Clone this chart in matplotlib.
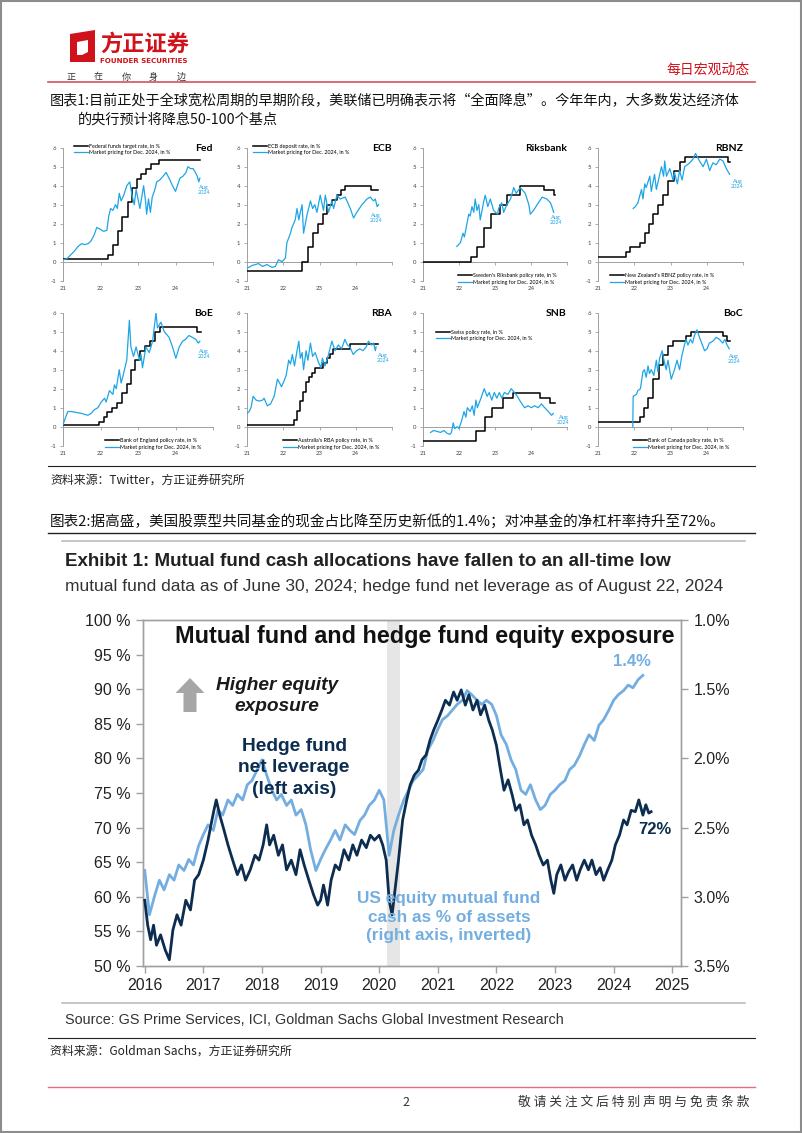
import matplotlib
matplotlib.use("Agg")
import matplotlib.pyplot as plt
from matplotlib.patches import Rectangle, Polygon, FancyArrow
from matplotlib.transforms import IdentityTransform

# ------------------------------------------------------------
# page size (pixels at dpi=100)
# ------------------------------------------------------------
W, H = 802, 1133
plt.rcParams['font.family'] = ['Noto Sans CJK SC', 'DejaVu Sans']

# ============================================================
# DATA - central bank panels (policy rate = steps, market pricing)
# ============================================================
fed_rate_t = [2021.0, 2022.21, 2022.34, 2022.46, 2022.57, 2022.72, 2022.84, 2022.96, 2023.09, 2023.22, 2023.34, 2023.57, 2024.66]
fed_rate_v = [0.125, 0.375, 0.875, 1.625, 2.375, 3.125, 3.875, 4.375, 4.625, 4.875, 5.125, 5.375, 5.375]
fed_mkt_t = [2021.0, 2021.1, 2021.2, 2021.3, 2021.4, 2021.5, 2021.58, 2021.67, 2021.75, 2021.83, 2021.9, 2022.0,
             2022.08, 2022.17, 2022.22, 2022.27, 2022.33, 2022.4, 2022.45, 2022.5, 2022.55, 2022.62, 2022.7, 2022.78,
             2022.83, 2022.9, 2022.95, 2023.0, 2023.05, 2023.1, 2023.15, 2023.2, 2023.23, 2023.28, 2023.33, 2023.38,
             2023.45, 2023.5, 2023.58, 2023.67, 2023.75, 2023.8, 2023.85, 2023.92, 2024.0, 2024.05, 2024.12, 2024.2,
             2024.28, 2024.33, 2024.4, 2024.47, 2024.53, 2024.58, 2024.62, 2024.65]
fed_mkt_v = [0.1, 0.15, 0.35, 0.55, 0.8, 0.95, 0.9, 0.95, 1.1, 1.4, 1.8, 1.7,
             1.6, 1.65, 2.4, 2.8, 2.7, 3.0, 2.8, 3.6, 3.2, 3.5, 4.0, 4.2,
             3.6, 3.0, 3.8, 3.3, 2.8, 3.4, 4.0, 3.2, 2.5, 3.3, 2.6, 3.4,
             3.8, 4.2, 4.3, 4.5, 4.7, 4.5, 4.3, 4.0, 3.7, 4.0, 4.4, 4.5,
             4.7, 5.0, 4.9, 4.9, 4.7, 4.5, 4.2, 4.4]

ecb_rate_t = [2021.0, 2022.53, 2022.69, 2022.83, 2022.96, 2023.1, 2023.22, 2023.35, 2023.47, 2023.58, 2023.7, 2024.42, 2024.62]
ecb_rate_v = [-0.5, 0.0, 0.75, 1.5, 2.0, 2.5, 3.0, 3.25, 3.5, 3.75, 4.0, 3.75, 3.75]
ecb_mkt_t = [2021.0, 2021.14, 2021.32, 2021.43, 2021.55, 2021.69, 2021.78, 2021.87, 2021.97, 2022.06, 2022.1,
             2022.2, 2022.24, 2022.33, 2022.38, 2022.43, 2022.47, 2022.52, 2022.56, 2022.66, 2022.75, 2022.81,
             2022.87, 2022.93, 2023.02, 2023.11, 2023.16, 2023.25, 2023.34, 2023.39, 2023.48, 2023.57, 2023.71,
             2023.85, 2023.94, 2024.03, 2024.17, 2024.31, 2024.4, 2024.49, 2024.54, 2024.59, 2024.63]
ecb_mkt_v = [-0.35, -0.2, -0.1, -0.25, -0.15, -0.3, -0.25, 0.1, 0.0, 0.2, 1.0,
             1.5, 1.8, 2.2, 2.8, 2.2, 2.6, 3.0, 1.5, 2.5, 3.2, 2.8,
             3.0, 2.6, 3.5, 2.7, 3.5, 2.6, 3.2, 2.8, 3.5, 3.3, 3.4,
             2.8, 2.3, 2.6, 3.0, 3.3, 3.4, 3.2, 3.3, 2.9, 3.0]

rik_rate_t = [2021.0, 2022.32, 2022.49, 2022.7, 2022.9, 2023.15, 2023.33, 2023.7, 2024.36, 2024.64, 2024.66]
rik_rate_v = [0.0, 0.25, 0.75, 1.75, 2.5, 3.0, 3.5, 4.0, 3.75, 3.5, 3.5]
rik_mkt_t = [2021.94, 2022.04, 2022.11, 2022.15, 2022.22, 2022.27, 2022.31, 2022.36, 2022.41, 2022.45, 2022.5,
             2022.55, 2022.59, 2022.69, 2022.73, 2022.8, 2022.87, 2022.96, 2023.07, 2023.1, 2023.19, 2023.24,
             2023.33, 2023.43, 2023.52, 2023.59, 2023.7, 2023.84, 2023.94, 2023.98, 2024.07, 2024.17, 2024.31,
             2024.44, 2024.54, 2024.58, 2024.63]
rik_mkt_v = [0.8, 1.0, 1.5, 1.3, 2.0, 2.5, 2.4, 2.9, 2.6, 3.3, 2.7,
             3.0, 2.2, 3.2, 3.5, 2.9, 3.3, 2.7, 2.5, 2.8, 3.1, 2.6,
             3.0, 3.3, 3.9, 3.6, 3.9, 3.6, 3.0, 2.5, 2.7, 3.0, 3.4,
             3.3, 3.1, 2.9, 2.6]

nz_rate_t = [2021.0, 2021.78, 2021.87, 2022.15, 2022.29, 2022.4, 2022.52, 2022.66, 2022.79, 2022.93, 2023.11, 2023.25, 2023.39, 2024.59, 2024.63]
nz_rate_v = [0.25, 0.5, 0.75, 1.0, 1.5, 2.0, 2.5, 3.0, 3.5, 4.25, 4.75, 5.25, 5.5, 5.25, 5.25]
nz_mkt_t = [2021.97, 2022.03, 2022.1, 2022.2, 2022.24, 2022.29, 2022.33, 2022.43, 2022.47, 2022.56, 2022.61,
            2022.75, 2022.81, 2022.84, 2022.89, 2022.98, 2023.07, 2023.11, 2023.19, 2023.25, 2023.32, 2023.39,
            2023.53, 2023.62, 2023.69, 2023.8, 2023.9, 2023.99, 2024.08, 2024.17, 2024.26, 2024.36, 2024.45,
            2024.54, 2024.63]
nz_mkt_v = [2.8, 2.9, 3.1, 3.8, 3.3, 4.1, 3.9, 4.5, 3.7, 4.6, 3.8,
            5.0, 4.5, 5.3, 4.5, 4.9, 4.3, 4.7, 4.1, 4.8, 4.3, 5.0,
            5.2, 5.4, 5.7, 5.3, 5.0, 5.4, 4.8, 5.2, 5.1, 5.4, 5.3,
            4.9, 4.6]

boe_rate_t = [2021.0, 2021.96, 2022.09, 2022.18, 2022.31, 2022.45, 2022.58, 2022.71, 2022.8, 2022.93, 2023.06, 2023.19, 2023.33, 2023.46, 2023.58, 2024.58, 2024.67]
boe_rate_v = [0.1, 0.25, 0.5, 0.75, 1.0, 1.25, 1.75, 2.25, 3.0, 3.5, 4.0, 4.25, 4.5, 5.0, 5.25, 5.0, 5.0]
boe_mkt_t = [2021.0, 2021.07, 2021.13, 2021.22, 2021.35, 2021.49, 2021.58, 2021.66, 2021.75, 2021.84, 2021.93,
             2022.02, 2022.11, 2022.15, 2022.24, 2022.33, 2022.37, 2022.42, 2022.5, 2022.55, 2022.59, 2022.7,
             2022.77, 2022.81, 2022.88, 2022.95, 2023.04, 2023.08, 2023.12, 2023.21, 2023.3, 2023.39, 2023.48,
             2023.52, 2023.61, 2023.7, 2023.83, 2023.92, 2024.01, 2024.1, 2024.19, 2024.27, 2024.36, 2024.45,
             2024.54, 2024.61, 2024.65]
boe_mkt_v = [0.1, 0.5, 0.8, 0.8, 0.75, 0.7, 0.65, 0.6, 0.7, 0.9, 1.0,
             1.3, 1.5, 1.3, 1.9, 1.7, 2.2, 2.0, 3.0, 2.3, 2.6, 3.5,
             5.6, 4.2, 3.7, 4.2, 3.5, 3.8, 3.1, 4.2, 3.9, 4.5, 6.0,
             5.2, 5.5, 5.0, 4.7, 4.2, 3.6, 4.2, 4.5, 4.6, 4.8, 4.7,
             4.6, 4.4, 4.5]

rba_rate_t = [2021.0, 2022.3, 2022.37, 2022.45, 2022.54, 2022.63, 2022.72, 2022.79, 2022.88, 2023.1, 2023.2, 2023.29, 2023.38, 2023.84, 2024.6]
rba_rate_v = [0.1, 0.35, 0.85, 1.35, 1.85, 2.35, 2.6, 2.85, 3.1, 3.35, 3.6, 3.85, 4.1, 4.35, 4.35]
rba_mkt_t = [2021.0, 2021.06, 2021.11, 2021.17, 2021.25, 2021.34, 2021.43, 2021.47, 2021.56, 2021.65, 2021.75,
             2021.84, 2021.9, 2021.95, 2022.02, 2022.08, 2022.15, 2022.2, 2022.25, 2022.31, 2022.38, 2022.43,
             2022.47, 2022.52, 2022.56, 2022.63, 2022.68, 2022.75, 2022.81, 2022.88, 2022.97, 2023.04, 2023.08,
             2023.15, 2023.25, 2023.34, 2023.43, 2023.52, 2023.61, 2023.7, 2023.77, 2023.84, 2023.93, 2024.02,
             2024.11, 2024.2, 2024.29, 2024.35, 2024.43, 2024.49, 2024.54, 2024.56]
rba_mkt_v = [0.7, 0.8, 1.0, 1.6, 1.4, 1.35, 1.4, 1.5, 1.1, 1.2, 1.6,
             2.5, 2.3, 2.1, 2.4, 2.7, 3.5, 3.3, 3.8, 3.2, 4.0, 4.5,
             3.6, 3.9, 3.0, 4.0, 3.5, 4.4, 3.7, 3.9, 3.4, 3.1, 3.6,
             3.2, 3.8, 4.5, 4.0, 4.3, 4.1, 4.6, 4.3, 4.2, 3.8, 4.0,
             4.1, 4.0, 4.2, 4.5, 4.3, 4.4, 4.0, 4.2]

snb_rate_t = [2021.0, 2022.47, 2022.72, 2022.93, 2023.22, 2023.5, 2024.24, 2024.52, 2024.68]
snb_rate_v = [-0.75, -0.25, 0.5, 1.0, 1.5, 1.75, 1.5, 1.25, 1.25]
snb_mkt_t = [2021.21, 2021.3, 2021.39, 2021.49, 2021.58, 2021.67, 2021.75, 2021.79, 2021.84, 2021.88, 2021.95,
             2022.0, 2022.07, 2022.14, 2022.19, 2022.23, 2022.31, 2022.37, 2022.42, 2022.47, 2022.51, 2022.61,
             2022.7, 2022.78, 2022.84, 2022.91, 2022.98, 2023.05, 2023.12, 2023.19, 2023.26, 2023.36, 2023.45,
             2023.54, 2023.62, 2023.68, 2023.75, 2023.82, 2023.92, 2024.01, 2024.1, 2024.2, 2024.29, 2024.38,
             2024.48, 2024.57, 2024.62]
snb_mkt_v = [-0.3, -0.2, -0.25, -0.3, -0.2, -0.35, -0.4, -0.3, 0.2, -0.1, 0.0,
             -0.1, 0.3, 0.8, 0.5, 1.0, 0.8, 1.1, 0.6, 1.4, 1.0, 1.5,
             2.0, 1.6, 1.8, 1.4, 1.8, 1.5, 1.8, 1.5, 1.8, 1.7, 2.0,
             1.8, 1.6, 1.4, 1.2, 1.0, 1.1, 1.0, 1.1, 1.0, 1.2, 1.0,
             0.8, 0.6, 0.7]

boc_rate_t = [2021.0, 2022.15, 2022.27, 2022.39, 2022.53, 2022.68, 2022.79, 2022.93, 2023.06, 2023.43, 2023.57, 2024.44, 2024.56, 2024.63]
boc_rate_v = [0.25, 0.5, 1.0, 1.5, 2.5, 3.25, 3.75, 4.25, 4.5, 4.75, 5.0, 4.75, 4.5, 4.5]
boc_mkt_t = [2021.96, 2021.97, 2022.06, 2022.1, 2022.17, 2022.24, 2022.28, 2022.33, 2022.38, 2022.42, 2022.47,
             2022.54, 2022.61, 2022.65, 2022.7, 2022.77, 2022.82, 2022.88, 2022.93, 2023.02, 2023.11, 2023.18,
             2023.25, 2023.31, 2023.37, 2023.43, 2023.48, 2023.55, 2023.61, 2023.66, 2023.73, 2023.8, 2023.86,
             2023.94, 2024.01, 2024.07, 2024.17, 2024.26, 2024.35, 2024.44, 2024.5, 2024.56, 2024.62]
boc_mkt_v = [0.0, 1.6, 1.7, 1.9, 2.0, 2.9, 3.0, 2.6, 3.2, 2.8, 3.0,
             2.7, 3.5, 2.9, 3.6, 4.0, 3.5, 3.0, 3.5, 2.5, 3.0, 3.5,
             3.0, 3.7, 4.2, 4.6, 4.3, 4.6, 4.4, 4.8, 5.1, 4.7, 4.4,
             4.0, 4.1, 4.4, 4.5, 4.7, 4.6, 4.4, 4.6, 4.3, 4.1]

bank_titles = ['Fed', 'ECB', 'Riksbank', 'RBNZ', 'BoE', 'RBA', 'SNB', 'BoC']
rate_labels = ['Federal funds target rate, in %', 'ECB deposit rate, in %',
               "Sweden's Riksbank policy rate, in %", "New Zealand's RBNZ policy rate, in %",
               'Bank of England policy rate, in %', "Australia's RBA policy rate, in %",
               'Swiss policy rate, in %', 'Bank of Canada policy rate, in %']
mkt_label = 'Market pricing for Dec. 2024, in %'
year_ticks = [2021, 2022, 2023, 2024, 2025]
year_labels = ['21', '22', '23', '24', '']

# ============================================================
# DATA - hedge fund leverage (left, %) / mutual fund cash (right, %)
# ============================================================
hf_t = [2016.0, 2016.05, 2016.1, 2016.15, 2016.2, 2016.27, 2016.35, 2016.42, 2016.48, 2016.55, 2016.62,
        2016.7, 2016.78, 2016.85, 2016.92, 2017.0, 2017.08, 2017.13, 2017.18, 2017.22, 2017.28, 2017.35,
        2017.42, 2017.5, 2017.58, 2017.65, 2017.72, 2017.8, 2017.88, 2017.95, 2018.02, 2018.08, 2018.13,
        2018.2, 2018.28, 2018.35, 2018.42, 2018.5, 2018.58, 2018.65, 2018.72, 2018.8, 2018.88, 2018.95,
        2019.0, 2019.05, 2019.12, 2019.18, 2019.25, 2019.32, 2019.4, 2019.48, 2019.55, 2019.62, 2019.7,
        2019.78, 2019.85, 2019.92, 2020.0, 2020.06, 2020.12, 2020.17, 2020.22, 2020.27, 2020.33, 2020.4,
        2020.47, 2020.53, 2020.6, 2020.67, 2020.73, 2020.8, 2020.87, 2020.93, 2021.0, 2021.07, 2021.13,
        2021.2, 2021.27, 2021.33, 2021.4, 2021.47, 2021.53, 2021.6, 2021.67, 2021.73, 2021.8, 2021.87,
        2021.93, 2022.0, 2022.07, 2022.13, 2022.2, 2022.27, 2022.33, 2022.4, 2022.47, 2022.53, 2022.6,
        2022.67, 2022.73, 2022.8, 2022.87, 2022.93, 2022.98, 2023.03, 2023.1, 2023.17, 2023.23, 2023.3,
        2023.37, 2023.43, 2023.5, 2023.57, 2023.63, 2023.7, 2023.77, 2023.83, 2023.9, 2023.97, 2024.03,
        2024.1, 2024.17, 2024.23, 2024.3, 2024.37, 2024.43, 2024.5, 2024.55, 2024.6, 2024.64]
hf_v = [59.5, 55.9, 53.8, 55.9, 53.0, 54.5, 52.3, 50.9, 55.2, 57.4, 55.9,
        59.5, 58.1, 62.4, 63.2, 65.3, 68.2, 70.4, 72.5, 74.0, 71.8, 69.7,
        67.5, 65.3, 63.2, 64.6, 62.4, 63.9, 66.0, 65.3, 67.5, 70.4, 67.5,
        68.9, 66.0, 67.5, 63.9, 65.3, 63.2, 66.8, 64.6, 62.4, 60.3, 58.8,
        59.5, 61.7, 58.8, 62.4, 64.6, 63.9, 66.8, 65.3, 67.5, 66.0, 68.2,
        67.1, 68.9, 68.2, 68.9, 67.5, 65.3, 59.5, 57.4, 61.0, 65.3, 71.1,
        74.0, 76.2, 77.6, 78.3, 79.8, 80.5, 82.7, 84.1, 85.5, 87.0, 88.4,
        87.7, 89.6, 88.4, 89.9, 87.7, 89.2, 87.0, 88.4, 86.3, 87.7, 85.5,
        84.1, 81.9, 78.3, 75.4, 76.9, 74.7, 72.5, 73.3, 70.4, 71.1, 68.9,
        67.5, 66.0, 64.6, 65.3, 62.4, 60.5, 63.2, 64.6, 62.4, 63.6, 64.6,
        62.4, 63.9, 65.3, 63.9, 65.3, 63.2, 64.2, 62.4, 63.9, 65.3, 67.5,
        68.9, 71.1, 70.4, 72.5, 72.3, 74.0, 71.8, 73.3, 72.1, 72.3]

mf_t = [2016.0, 2016.08, 2016.17, 2016.25, 2016.33, 2016.42, 2016.5, 2016.58, 2016.67, 2016.75, 2016.83,
        2016.92, 2017.0, 2017.08, 2017.17, 2017.25, 2017.33, 2017.42, 2017.5, 2017.58, 2017.67, 2017.75,
        2017.83, 2017.92, 2018.0, 2018.08, 2018.17, 2018.25, 2018.33, 2018.42, 2018.5, 2018.58, 2018.67,
        2018.75, 2018.83, 2018.92, 2019.0, 2019.08, 2019.17, 2019.25, 2019.33, 2019.42, 2019.5, 2019.58,
        2019.67, 2019.75, 2019.83, 2019.92, 2020.0, 2020.08, 2020.17, 2020.25, 2020.33, 2020.42, 2020.5,
        2020.58, 2020.67, 2020.75, 2020.83, 2020.92, 2021.0, 2021.08, 2021.17, 2021.25, 2021.33, 2021.42,
        2021.5, 2021.58, 2021.67, 2021.75, 2021.83, 2021.92, 2022.0, 2022.08, 2022.17, 2022.25, 2022.33,
        2022.42, 2022.5, 2022.58, 2022.67, 2022.75, 2022.83, 2022.92, 2023.0, 2023.08, 2023.17, 2023.25,
        2023.33, 2023.42, 2023.5, 2023.58, 2023.67, 2023.75, 2023.83, 2023.92, 2024.0, 2024.08, 2024.17,
        2024.25, 2024.33, 2024.42, 2024.5]
mf_v = [2.81, 3.13, 2.99, 2.88, 2.95, 2.84, 2.88, 2.77, 2.81, 2.73, 2.77,
        2.63, 2.55, 2.48, 2.52, 2.37, 2.41, 2.30, 2.34, 2.26, 2.30, 2.19,
        2.16, 2.08, 2.01, 2.12, 2.23, 2.30, 2.26, 2.34, 2.30, 2.41, 2.37,
        2.48, 2.66, 2.81, 2.73, 2.66, 2.59, 2.52, 2.59, 2.48, 2.52, 2.55,
        2.45, 2.41, 2.34, 2.30, 2.23, 2.30, 2.70, 2.52, 2.41, 2.30, 2.23,
        2.16, 2.12, 2.08, 1.94, 1.87, 1.79, 1.72, 1.69, 1.65, 1.61, 1.58,
        1.51, 1.54, 1.58, 1.61, 1.58, 1.61, 1.69, 1.83, 1.90, 2.01, 2.08,
        2.23, 2.26, 2.19, 2.30, 2.37, 2.34, 2.26, 2.23, 2.19, 2.16, 2.08,
        2.05, 1.98, 1.90, 1.83, 1.87, 1.76, 1.72, 1.65, 1.58, 1.54, 1.51,
        1.47, 1.49, 1.43, 1.40]

left_ticks = [50, 55, 60, 65, 70, 75, 80, 85, 90, 95, 100]
right_ticks = [1.0, 1.5, 2.0, 2.5, 3.0, 3.5]
big_years = [2016, 2017, 2018, 2019, 2020, 2021, 2022, 2023, 2024, 2025]

# ============================================================
# colours / helpers
# ============================================================
RED = '#d0121b'
BLUE = '#1ea5e6'
NAVY = '#0c2d4f'
LBLUE = '#74aee0'
AXG = '#a0a0a0'

fig = plt.figure(figsize=(W / 100, H / 100), dpi=100)


def box(x0, y0, x1, y1):
    return [x0 / W, 1 - y1 / H, (x1 - x0) / W, (y1 - y0) / H]


def ftext(x, y, s, **kw):
    return fig.text(x / W, 1 - y / H, s, **kw)


def hline(y, x0, x1, color, lw):
    fig.add_artist(plt.Line2D([x0 / W, x1 / W], [1 - y / H, 1 - y / H], color=color, lw=lw))


# page frame
fig.add_artist(Rectangle((0.001, 0.001), 0.998, 0.998, transform=fig.transFigure,
                         fill=False, edgecolor='#8c8c8c', lw=1.5))

# ========================
# HEADER
# ========================
logo = Polygon([(x, H - y) for x, y in [(70, 34), (95, 30), (95, 62), (70, 62)]], closed=True,
               transform=IdentityTransform(), facecolor=RED, edgecolor='none')
fig.add_artist(logo)
hole = Polygon([(x, H - y) for x, y in [(77, 42), (88, 40), (88, 52), (82, 55), (77, 55)]],
               closed=True, transform=IdentityTransform(), facecolor='white', edgecolor='none')
fig.add_artist(hole)
ftext(100, 44, '方正证券', color=RED, fontsize=16, fontweight='bold', va='center', ha='left')
ftext(100, 61, 'FOUNDER SECURITIES', color=RED, fontsize=5.1, fontweight='bold', va='center',
      ha='left', family='DejaVu Sans')
for i, ch in enumerate('正在你身边'):
    ftext(71 + i * 27.5, 77, ch, color='#333333', fontsize=6.5, va='center', ha='center')
ftext(750, 70, '每日宏观动态', color=RED, fontsize=10, va='center', ha='right')
hline(82, 48, 755, '#d9505a', 1.2)

ftext(50, 101, '图表1:目前正处于全球宽松周期的早期阶段，美联储已明确表示将“全面降息”。今年年内，大多数发达经济体',
      fontsize=10.2, va='center', ha='left', color='#111111')
ftext(78, 120, '的央行预计将降息50-100个基点', fontsize=10.2, va='center', ha='left', color='#111111')

# ========================
# CENTRAL BANK PANELS
# ========================
cols = [(63, 213), (247, 392), (423, 567), (598, 743)]
rows = [(147.7, 280.7), (312.7, 445.7)]
rate_t = [fed_rate_t, ecb_rate_t, rik_rate_t, nz_rate_t, boe_rate_t, rba_rate_t, snb_rate_t, boc_rate_t]
rate_v = [fed_rate_v, ecb_rate_v, rik_rate_v, nz_rate_v, boe_rate_v, rba_rate_v, snb_rate_v, boc_rate_v]
mkt_t = [fed_mkt_t, ecb_mkt_t, rik_mkt_t, nz_mkt_t, boe_mkt_t, rba_mkt_t, snb_mkt_t, boc_mkt_t]
mkt_v = [fed_mkt_v, ecb_mkt_v, rik_mkt_v, nz_mkt_v, boe_mkt_v, rba_mkt_v, snb_mkt_v, boc_mkt_v]
# legend anchor (axes fraction), location, "Aug 2024" label spot (data)
leg_pos = [((0.07, 1.03), 'upper left'), ((0.04, 1.03), 'upper left'),
           ((0.24, -0.03), 'lower left'), ((0.08, -0.03), 'lower left'),
           ((0.28, -0.03), 'lower left'), ((0.25, -0.03), 'lower left'),
           ((0.09, 0.87), 'upper left'), ((0.24, -0.03), 'lower left')]
aug_pos = [(2024.75, 3.75), (2024.55, 2.3), (2024.7, 2.2), (2024.85, 4.1),
           (2024.75, 3.85), (2024.75, 3.6), (2024.9, 0.33), (2024.75, 3.55)]

for i in range(8):
    r, c = divmod(i, 4)
    ax = fig.add_axes(box(cols[c][0], rows[r][0], cols[c][1], rows[r][1]))
    ax.step(rate_t[i], rate_v[i], where='post', color='black', lw=1.1, label=rate_labels[i], zorder=3)
    ax.plot(mkt_t[i], mkt_v[i], color=BLUE, lw=0.9, label=mkt_label, zorder=4)
    ax.set_xlim(2021, 2025)
    ax.set_ylim(-1, 6)
    ax.patch.set_visible(False)
    for s in ['top', 'right']:
        ax.spines[s].set_visible(False)
    ax.spines['bottom'].set_position(('data', 0))
    for s in ['bottom', 'left']:
        ax.spines[s].set_color(AXG)
        ax.spines[s].set_linewidth(0.7)
    ax.set_yticks(range(-1, 7))
    ax.set_yticklabels([str(v) for v in range(-1, 7)], family='Lato')
    ax.set_xticks(year_ticks)
    ax.set_xticklabels(year_labels, family='Lato')
    ax.tick_params(axis='y', length=2, width=0.6, color=AXG, labelsize=4.3, labelcolor='#444444', pad=3)
    ax.tick_params(axis='x', length=2, width=0.6, color=AXG, labelsize=4.3, labelcolor='#444444', pad=15.5)
    ax.text(1.0, 5.95, bank_titles[i], transform=ax.get_yaxis_transform(), ha='right', va='center',
            fontsize=7.5, fontweight='bold', family='Lato')
    ax.text(aug_pos[i][0], aug_pos[i][1], 'Aug\n2024', color=BLUE, fontsize=4, ha='center', va='center',
            linespacing=1.0, family='Lato')
    ax.legend(loc=leg_pos[i][1], bbox_to_anchor=leg_pos[i][0], frameon=False, prop={'family': 'Lato', 'size': 3.9},
              handlelength=2.6, handletextpad=0.2, labelspacing=0.25, borderaxespad=0, borderpad=0)

hline(466, 48, 755, '#222222', 0.8)
ftext(50, 480, '资料来源：Twitter，方正证券研究所', fontsize=8.6, va='center', ha='left', color='#222222')

# ========================
# HEDGE FUND / MUTUAL FUND CHART
# ========================
ftext(50, 521, '图表2:据高盛，美国股票型共同基金的现金占比降至历史新低的1.4%；对冲基金的净杠杆率持升至72%。',
      fontsize=10.5, va='center', ha='left', color='#111111')
hline(533, 48, 755, '#222222', 1.0)
hline(541, 62, 745, '#bdbdbd', 1.2)
ftext(65, 562, 'Exhibit 1: Mutual fund cash allocations have fallen to an all-time low', fontsize=13.5,
      fontweight='bold', va='center', ha='left', family='Liberation Sans', color='#222222')
ftext(65, 586, 'mutual fund data as of June 30, 2024; hedge fund net leverage as of August 22, 2024', fontsize=12.5,
      va='center', ha='left', family='Liberation Sans', color='#333333')

ax = fig.add_axes(box(143, 620, 681, 966))
ax2 = ax.twinx()
ax.set_zorder(2)
ax2.set_zorder(1)
ax.patch.set_visible(False)

ax2.axvspan(2020.13, 2020.36, color='#e6e6e6', lw=0, zorder=0)
ax2.plot(mf_t, mf_v, color=LBLUE, lw=2.0, zorder=2, solid_joinstyle='round')
ax.plot(hf_t, hf_v, color=NAVY, lw=2.0, zorder=3, solid_joinstyle='round')

ax.set_xlim(2015.97, 2025.15)
ax.set_ylim(50, 100)
ax2.set_ylim(3.5, 1.0)
ax.set_yticks(left_ticks)
ax.set_yticklabels([f'{v} %' for v in left_ticks])
ax2.set_yticks(right_ticks)
ax2.set_yticklabels([f'{v:.1f}%' for v in right_ticks])
ax.set_xticks(big_years)
ax.set_xticklabels([str(y) for y in big_years])
for a in (ax, ax2):
    for s in a.spines.values():
        s.set_color(AXG)
        s.set_linewidth(1.0)
    a.tick_params(length=5, width=1.0, color=AXG, labelsize=11.5, labelcolor='#222222', pad=4)
    for lab in a.get_xticklabels() + a.get_yticklabels():
        lab.set_family('Liberation Sans')

ftext(425, 637, 'Mutual fund and hedge fund equity exposure', fontsize=16.8, fontweight='bold', ha='center',
      va='center', family='Liberation Sans', color='#111111')
fig.add_artist(FancyArrow(190, H - 712, 0, 34, width=13, head_width=29, head_length=15,
                          length_includes_head=True, transform=IdentityTransform(),
                          facecolor='#a6a6a6', edgecolor='none'))
ftext(277, 696, 'Higher equity\nexposure', fontsize=13.8, fontweight='bold', style='italic', ha='center',
      va='center', family='Liberation Sans', color='#1a1a1a', linespacing=1.25)
ftext(294, 768, 'Hedge fund\nnet leverage\n(left axis)', fontsize=13.8, fontweight='bold', ha='center',
      va='center', family='Liberation Sans', color=NAVY, linespacing=1.32)
ftext(449, 917, 'US equity mutual fund\ncash as % of assets\n(right axis, inverted)', fontsize=12.4,
      fontweight='bold', ha='center', va='center', family='Liberation Sans', color=LBLUE, linespacing=1.32)
ftext(632, 662, '1.4%', fontsize=12, fontweight='bold', ha='center', va='center',
      family='Liberation Sans', color=LBLUE)
ftext(655, 829, '72%', fontsize=12, fontweight='bold', ha='center', va='center',
      family='Liberation Sans', color=NAVY)

hline(1003, 62, 745, '#bdbdbd', 1.2)
ftext(65, 1020, 'Source: GS Prime Services, ICI, Goldman Sachs Global Investment Research', fontsize=10.4,
      va='center', ha='left', family='Liberation Sans', color='#333333')
hline(1038, 48, 755, '#222222', 0.8)
ftext(50, 1051, '资料来源：Goldman Sachs，方正证券研究所', fontsize=8.6, va='center', ha='left', color='#222222')

# ========================
# FOOTER
# ========================
hline(1087, 48, 755, '#e07080', 1.0)
ftext(406, 1102, '2', fontsize=9, va='center', ha='center', color='#333333')
ftext(750, 1102, ' '.join('敬请关注文后特别声明与免责条款'), fontsize=9.2, va='center', ha='right', color='#333333')

fig.savefig('out.png', dpi=100)
